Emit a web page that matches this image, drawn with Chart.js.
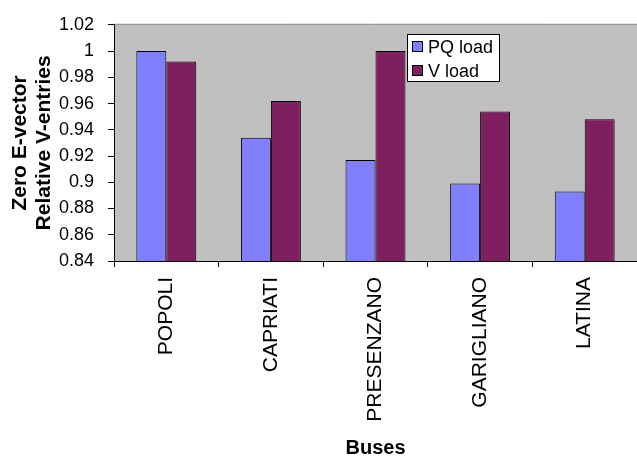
<!DOCTYPE html>
<html>
<head>
<meta charset="utf-8">
<script src="https://cdn.jsdelivr.net/npm/chart.js@4.4.0/dist/chart.umd.min.js"></script>
<style>
  body { margin: 0; background: #fff; }
  #wrap { width: 637px; height: 461px; position: relative; }
</style>
</head>
<body>
<div id="wrap"><canvas id="busChart"></canvas></div>
<script>
const buses = ['POPOLI', 'CAPRIATI', 'PRESENZANO', 'GARIGLIANO', 'LATINA'];
const pqLoad = [1.0, 0.934, 0.917, 0.899, 0.893];
const vLoad = [0.992, 0.962, 1.0, 0.954, 0.948];
const yTicks = [0.84, 0.86, 0.88, 0.9, 0.92, 0.94, 0.96, 0.98, 1, 1.02];

const FONT = "'Liberation Sans', Arial, sans-serif";
Chart.defaults.font.family = FONT;
Chart.defaults.color = '#000';

// gray plot area with a thin darker line on top
const plotBg = {
  id: 'plotBg',
  beforeDraw(chart) {
    const {ctx, chartArea: a} = chart;
    ctx.save();
    ctx.fillStyle = '#c0c0c0';
    ctx.fillRect(a.left, a.top, a.right - a.left, a.bottom - a.top);
    ctx.strokeStyle = '#808080';
    ctx.lineWidth = 1;
    ctx.beginPath();
    ctx.moveTo(a.left, a.top - 0.5);
    ctx.lineTo(a.right, a.top - 0.5);
    ctx.stroke();
    ctx.restore();
  }
};

// boxed legend sitting inside the plot, like the old spreadsheet chart
const boxLegend = {
  id: 'boxLegend',
  afterDraw(chart) {
    const ctx = chart.ctx;
    const x = 407, y = 34, w = 92, h = 47;
    ctx.save();
    ctx.fillStyle = '#fff';
    ctx.fillRect(x, y, w, h);
    ctx.strokeStyle = '#000';
    ctx.lineWidth = 1;
    ctx.strokeRect(x + 0.5, y + 0.5, w, h);
    ctx.font = '18px ' + FONT;
    ctx.textBaseline = 'middle';
    chart.data.datasets.forEach((ds, i) => {
      const rowY = y + 13 + i * 24;
      ctx.fillStyle = ds.backgroundColor;
      ctx.fillRect(x + 5, rowY - 6, 11, 11);
      ctx.strokeRect(x + 5.5, rowY - 5.5, 10, 10);
      ctx.fillStyle = '#000';
      ctx.fillText(ds.label, x + 21, rowY + 1);
    });
    ctx.restore();
  }
};

new Chart(document.getElementById('busChart'), {
  type: 'bar',
  data: {
    labels: buses,
    datasets: [
      { label: 'PQ load', data: pqLoad, backgroundColor: '#8080ff', borderColor: '#000', borderWidth: 1 },
      { label: 'V load', data: vLoad, backgroundColor: '#7f1f5f', borderColor: '#000', borderWidth: 1 }
    ]
  },
  options: {
    responsive: true,
    maintainAspectRatio: false,
    animation: false,
    categoryPercentage: 0.573,
    barPercentage: 1,
    layout: { padding: { top: 15, right: 0, bottom: 0, left: 0 } },
    plugins: {
      legend: { display: false },
      tooltip: { enabled: false }
    },
    scales: {
      x: {
        grid: { offset: true, drawOnChartArea: false, color: '#000', tickLength: 6 },
        border: { color: '#000' },
        ticks: { font: { size: 21 }, minRotation: 90, maxRotation: 90, autoSkip: false, padding: 10 },
        title: { display: true, text: 'Buses', font: { size: 20, weight: 'bold' }, padding: { top: 0, bottom: 1 } },
        afterFit(scale) { scale.height = 200; }
      },
      y: {
        min: 0.84,
        max: 1.02,
        afterBuildTicks(scale) { scale.ticks = yTicks.map(v => ({ value: v })); },
        grid: { drawOnChartArea: false, color: '#000', tickLength: 6 },
        border: { color: '#000' },
        ticks: {
          font: { size: 18 },
          padding: 14,
          callback: v => String(Math.round(v * 100) / 100)
        },
        title: {
          display: true,
          text: ['Zero E-vector', 'Relative V-entries'],
          font: { size: 21, weight: 'bold', lineHeight: 1.15 },
          padding: { top: 8, bottom: 0 }
        },
        afterFit(scale) { scale.width = 114; }
      }
    }
  },
  plugins: [plotBg, boxLegend]
});
</script>
</body>
</html>
